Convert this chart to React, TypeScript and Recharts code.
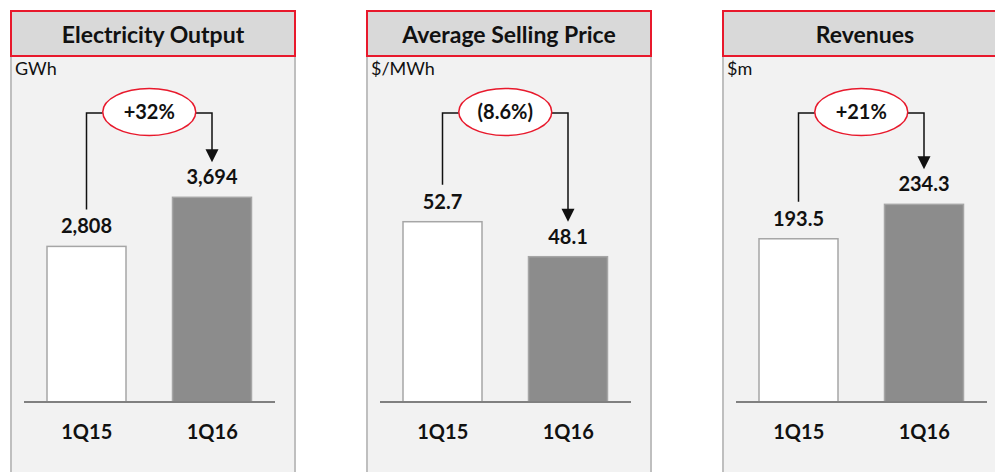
import { BarChart, Bar, XAxis, YAxis } from 'recharts';

const periods = ['1Q15', '1Q16'];
const outputGwh = [2808, 3694];
const sellingPrice = [52.7, 48.1];
const revenues = [193.5, 234.3];

const titles = ['Electricity Output', 'Average Selling Price', 'Revenues'];
const units = ['GWh', '$/MWh', '$m'];
const changes = ['+32%', '(8.6%)', '+21%'];

const FONT = "Lato, 'Open Sans', sans-serif";
const RED = '#e8192c';
const CHART_W = 286;
const CHART_H = 415;
const MARGIN = { top: 43, right: 21, bottom: 30, left: 14 };
const BAND = (CHART_W - MARGIN.left - MARGIN.right) / periods.length;
const BRACKET_Y = 56;
const RX = 46.5;
const RY = 23.5;

type PanelDef = {
  title: string;
  unit: string;
  change: string;
  values: number[];
  domain: [number, number];
  fmt: (v: number) => string;
  left: number;
};

const panels: PanelDef[] = [
  { title: titles[0], unit: units[0], change: changes[0], values: outputGwh, domain: [0, 5450], fmt: (v) => v.toLocaleString('en-US'), left: 10 },
  { title: titles[1], unit: units[1], change: changes[1], values: sellingPrice, domain: [29, 68.7], fmt: (v) => v.toFixed(1), left: 366 },
  { title: titles[2], unit: units[2], change: changes[2], values: revenues, domain: [0, 358], fmt: (v) => v.toFixed(1), left: 722 },
];

const makeShape = (p: PanelDef) => (props: any) => {
  const { x, y, width, height, index, payload } = props;
  const cx = x + width / 2;
  const textStyle = { fontFamily: FONT, fontWeight: 700, fontSize: 20, fill: '#111' };
  let extra = null;
  if (index === 0) {
    const mid = cx + BAND / 2;
    extra = (
      <polyline
        points={`${cx},${y - 37} ${cx},${BRACKET_Y} ${mid - RX},${BRACKET_Y}`}
        fill="none"
        stroke="#111"
        strokeWidth={1.5}
      />
    );
  } else {
    const mid = cx - BAND / 2;
    const tip = y - 35;
    extra = (
      <g>
        <polyline
          points={`${mid + RX},${BRACKET_Y} ${cx},${BRACKET_Y} ${cx},${tip - 12}`}
          fill="none"
          stroke="#111"
          strokeWidth={1.5}
        />
        <polygon points={`${cx - 6.5},${tip - 13} ${cx + 6.5},${tip - 13} ${cx},${tip}`} fill="#111" />
        <ellipse cx={mid} cy={BRACKET_Y - 1} rx={RX} ry={RY} fill="#ffffff" stroke={RED} strokeWidth={1.5} />
        <text x={mid} y={BRACKET_Y + 6} textAnchor="middle" style={textStyle}>
          {p.change}
        </text>
      </g>
    );
  }
  return (
    <g>
      <rect
        x={x}
        y={y}
        width={width}
        height={height}
        fill={index === 0 ? '#ffffff' : '#8c8c8c'}
        stroke="#a6a6a6"
        strokeWidth={1.5}
      />
      <text x={cx} y={y - 13} textAnchor="middle" style={textStyle}>
        {p.fmt(payload.value)}
      </text>
      {extra}
    </g>
  );
};

const Panel = ({ p }: { p: PanelDef }) => {
  const data = periods.map((period, i) => ({ period, value: p.values[i] }));
  return (
    <div style={{ position: 'absolute', left: p.left, top: 10, width: CHART_W, height: 462 }}>
      <div
        style={{
          boxSizing: 'border-box',
          height: 47,
          border: `2px solid ${RED}`,
          background: '#d9d9d9',
          display: 'flex',
          alignItems: 'center',
          justifyContent: 'center',
          fontFamily: FONT,
          fontWeight: 700,
          fontSize: 23,
          color: '#111',
        }}
      >
        {p.title}
      </div>
      <div
        style={{
          position: 'absolute',
          top: 47,
          left: 0,
          width: CHART_W,
          height: CHART_H,
          boxSizing: 'border-box',
          background: '#f2f2f2',
          borderLeft: '2px solid #bfbfbf',
          borderRight: '2px solid #bfbfbf',
        }}
      />
      <div
        style={{
          position: 'absolute',
          top: 49,
          left: 5,
          fontFamily: FONT,
          fontSize: 18,
          lineHeight: '18px',
          color: '#111',
        }}
      >
        {p.unit}
      </div>
      <div style={{ position: 'absolute', top: 47, left: 0 }}>
        <BarChart width={CHART_W} height={CHART_H} data={data} margin={MARGIN}>
          <XAxis
            dataKey="period"
            height={40}
            axisLine={{ stroke: '#808080', strokeWidth: 2 }}
            tickLine={false}
            tickSize={6}
            tickMargin={17}
            tick={{ fontFamily: FONT, fontWeight: 700, fontSize: 20, fill: '#111' }}
          />
          <YAxis hide type="number" domain={p.domain} />
          <Bar dataKey="value" barSize={79} isAnimationActive={false} shape={makeShape(p)} />
        </BarChart>
      </div>
    </div>
  );
};

export default function App() {
  return (
    <div
      style={{
        position: 'absolute',
        left: 0,
        top: 0,
        width: 995,
        height: 472,
        overflow: 'hidden',
        background: '#ffffff',
      }}
    >
      {panels.map((p) => (
        <Panel key={p.title} p={p} />
      ))}
    </div>
  );
}
